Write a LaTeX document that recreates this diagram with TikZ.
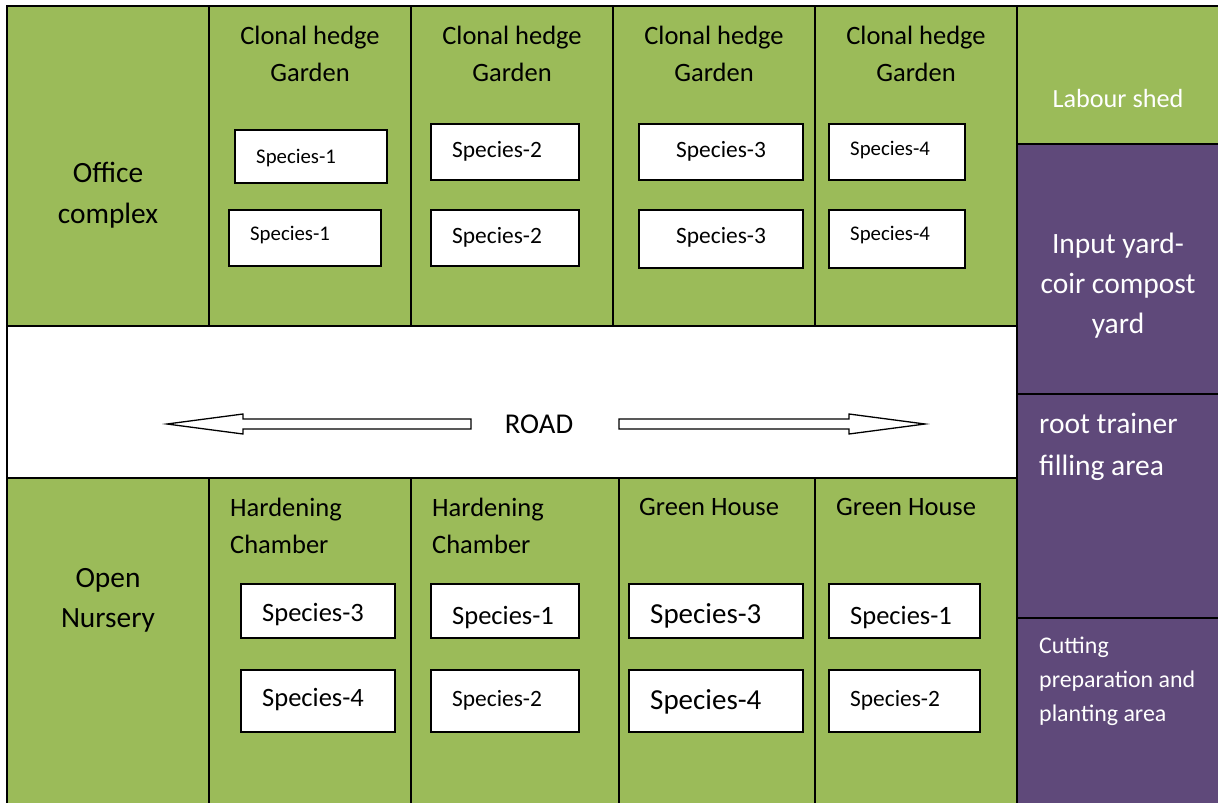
\documentclass[tikz,border=0pt]{standalone}
\usepackage{fontspec}
\setmainfont{Carlito}
\usetikzlibrary{fit}
\definecolor{leaf}{HTML}{9BBB59}
\definecolor{plum}{HTML}{5F497A}
\begin{document}
\begin{tikzpicture}[x=1pt,y=-1pt,
  zone/.style={draw=black, line width=1.6pt, fill=leaf, inner sep=0pt, outer sep=0pt},
  yard/.style={draw=black, line width=1.6pt, fill=plum, inner sep=0pt, outer sep=0pt},
  roadway/.style={draw=black, line width=1.6pt, fill=white, inner sep=0pt, outer sep=0pt},
  spbox/.style={draw=black, line width=1.3pt, fill=white, inner sep=0pt, outer sep=0pt},
  hdr/.style={inner sep=0pt, align=center, font=\fontsize{26.5}{37}\selectfont},
  hdrB/.style={inner sep=0pt, align=center, font=\fontsize{29.4}{41}\selectfont},
  hdrl/.style={inner sep=0pt, align=left, anchor=west, font=\fontsize{26.5}{37}\selectfont},
  wlbl/.style={inner sep=0pt, text=white},
  sp/.style={inner sep=0pt, anchor=west},
  spS/.style={sp, font=\fontsize{20.8}{24}\selectfont},
  spM/.style={sp, font=\fontsize{23.4}{27}\selectfont},
  spL/.style={sp, font=\fontsize{26.5}{30}\selectfont},
  spXL/.style={sp, font=\fontsize{29}{33}\selectfont},
  roadarrow/.style={draw=black, line width=1.3pt, fill=white, line join=miter}
]
\useasboundingbox (0,0) rectangle (1218,803);
\clip (0,0) rectangle (1218,803);

% ---- upper row: office and clonal hedge gardens
\node[zone, fit={(7,6) (209,326)}] (office) {};
\node[zone, fit={(209,6) (411,326)}] (hedgeA) {};
\node[zone, fit={(411,6) (613,326)}] (hedgeB) {};
\node[zone, fit={(613,6) (815,326)}] (hedgeC) {};
\node[zone, fit={(815,6) (1017,326)}] (hedgeD) {};

% ---- road
\node[roadway, fit={(7,326) (1017,478)}] (road) {};

% ---- lower row: open nursery, hardening chambers, green houses
\node[zone, fit={(7,478) (209,820)}] (nursery) {};
\node[zone, fit={(209,478) (411,820)}] (hardA) {};
\node[zone, fit={(411,478) (619,820)}] (hardB) {};
\node[zone, fit={(619,478) (815,820)}] (greenA) {};
\node[zone, fit={(815,478) (1017,820)}] (greenB) {};

% ---- service strip on the right
\node[zone, fit={(1017,6) (1230,144)}] (shed) {};
\node[yard, fit={(1017,144) (1230,394)}] (input) {};
\node[yard, fit={(1017,394) (1230,618)}] (filling) {};
\node[yard, fit={(1017,618) (1230,820)}] (cutting) {};

% ---- titles
\node[hdrB] (tOffice) at (108,195.5) {Office\\complex};
\node[hdr] (tHedgeA) at (310,53.5) {Clonal hedge\\Garden};
\node[hdr] (tHedgeB) at (512,53.5) {Clonal hedge\\Garden};
\node[hdr] (tHedgeC) at (714,53.5) {Clonal hedge\\Garden};
\node[hdr] (tHedgeD) at (916,53.5) {Clonal hedge\\Garden};
\node[hdrB, font=\fontsize{29.4}{40}\selectfont] (tNursery) at (108,600) {Open\\Nursery};
\node[hdrl] (tHardA) at (230,525.5) {Hardening\\Chamber};
\node[hdrl] (tHardB) at (432,525.5) {Hardening\\Chamber};
\node[hdrl] (tGreenA) at (639,507) {Green House};
\node[hdrl] (tGreenB) at (836,507) {Green House};
\node[inner sep=0pt, font=\fontsize{28.7}{32}\selectfont] (tRoad) at (539,424) {ROAD};

\node[wlbl, font=\fontsize{26.2}{30}\selectfont] (tShed) at (1118,98) {Labour shed};
\node[wlbl, align=center, font=\fontsize{29.5}{40}\selectfont] (tInput) at (1118,286) {Input yard-\\coir compost\\yard};
\node[wlbl, align=left, anchor=west, font=\fontsize{29.5}{42}\selectfont] (tFilling) at (1039,447) {root trainer\\filling area};
\node[wlbl, align=left, anchor=west, font=\fontsize{23.9}{34}\selectfont] (tCutting) at (1039,681) {Cutting\\preparation and\\planting area};

% ---- road direction arrows
\coordinate (roadW) at (167,424);
\coordinate (roadE) at (925,424);
\draw[roadarrow] (roadW) -- ++(76,-10) -- ++(0,5) -- ++(228,0) -- ++(0,10) -- ++(-228,0) -- ++(0,5) -- cycle;
\draw[roadarrow] (roadE) -- ++(-76,-10) -- ++(0,5) -- ++(-230,0) -- ++(0,10) -- ++(230,0) -- ++(0,5) -- cycle;

% ---- species plots, upper row
\node[spbox, fit={(235,130) (387,183)}] (a1) {};
\node[spbox, fit={(229,210) (381,266)}] (a2) {};
\node[spbox, fit={(431,124) (579,180)}] (b1) {};
\node[spbox, fit={(431,210) (579,266)}] (b2) {};
\node[spbox, fit={(639,124) (803,180)}] (c1) {};
\node[spbox, fit={(639,210) (803,268)}] (c2) {};
\node[spbox, fit={(829,124) (965,180)}] (d1) {};
\node[spbox, fit={(829,210) (965,268)}] (d2) {};
\node[spS] (a1t) at (256,158.5) {Species-1};
\node[spS] (a2t) at (250,235.5) {Species-1};
\node[spM] (b1t) at (452,151.7) {Species-2};
\node[spM] (b2t) at (452,237.7) {Species-2};
\node[spM] (c1t) at (676,151.7) {Species-3};
\node[spM] (c2t) at (676,237.7) {Species-3};
\node[spS] (d1t) at (850,150) {Species-4};
\node[spS] (d2t) at (850,235.5) {Species-4};

% ---- species plots, lower row
\node[spbox, fit={(241,584) (395,638)}] (e1) {};
\node[spbox, fit={(241,670) (395,732)}] (e2) {};
\node[spbox, fit={(431,584) (579,638)}] (f1) {};
\node[spbox, fit={(431,670) (579,732)}] (f2) {};
\node[spbox, fit={(629,584) (803,638)}] (g1) {};
\node[spbox, fit={(629,670) (803,732)}] (g2) {};
\node[spbox, fit={(829,584) (980,638)}] (h1) {};
\node[spbox, fit={(829,670) (980,732)}] (h2) {};
\node[spL] (e1t) at (262,615) {Species-3};
\node[spL] (e2t) at (262,700) {Species-4};
\node[spL] (f1t) at (452,618) {Species-1};
\node[spM] (f2t) at (452,700) {Species-2};
\node[spXL] (g1t) at (650,616) {Species-3};
\node[spXL] (g2t) at (650,702) {Species-4};
\node[spL] (h1t) at (850,618) {Species-1};
\node[spM] (h2t) at (850,700) {Species-2};
\end{tikzpicture}
\end{document}
